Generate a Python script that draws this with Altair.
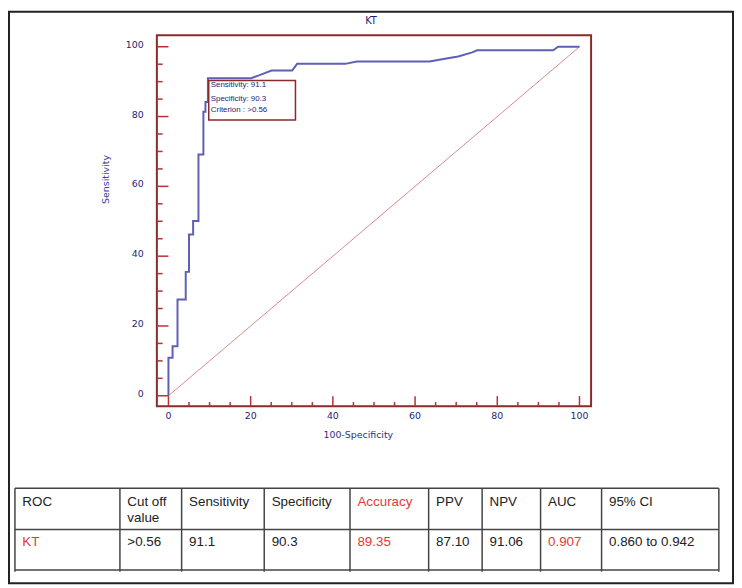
import altair as alt
import pandas as pd

# ---------------- data ----------------
# ROC curve vertices: 100-Specificity (x) and Sensitivity (y)
fpr = [0, 0, 1.0, 1.0, 2.2, 2.2, 4.2, 4.2, 5.0, 5.0, 6.0, 6.0, 7.3, 7.3, 8.5, 8.5,
       9.0, 9.0, 9.6, 9.6, 20.1, 22.0, 25.1, 30.1, 31.3, 43.0, 45.8, 63.5, 68.3,
       70.5, 73.9, 75.1, 93.6, 94.8, 100]
tpr = [0, 10.9, 10.9, 14.2, 14.2, 27.6, 27.6, 35.5, 35.5, 46.2, 46.2, 50.1, 50.1,
       69.1, 69.1, 81.4, 81.4, 84.2, 84.2, 91.0, 91.0, 91.8, 93.2, 93.2, 95.1, 95.1,
       95.8, 95.8, 96.8, 97.2, 98.4, 99.0, 99.0, 100, 100]
ref_line = [0, 100]
tick_major = [0, 20, 40, 60, 80, 100]
tick_minor = [5, 10, 15, 25, 30, 35, 45, 50, 55, 65, 70, 75, 85, 90, 95]
box_lines = ["Sensitivity: 91.1", "Specificity: 90.3", "Criterion : >0.56"]
box_x = [9.8, 30.9]
box_y = [79.0, 90.35]
box_text_y = [88.9, 85.1, 82.0]

headers = ["ROC", "Cut off\nvalue", "Sensitivity", "Specificity", "Accuracy",
           "PPV", "NPV", "AUC", "95% CI"]
row_values = ["KT", ">0.56", "91.1", "90.3", "89.35", "87.10", "91.06", "0.907",
              "0.860 to 0.942"]

# ---------------- layout / style ----------------
W, H = 731, 577
X_DOM = [-2.82, 102.82]
Y_DOM = [-3.0, 103.3]
xs = alt.Scale(domain=X_DOM, range=[149.3, 587.7], nice=False, zero=False)
ys = alt.Scale(domain=Y_DOM, range=[398.3, 23.7], nice=False, zero=False)
FRAME = "#8b2a2a"
TICK = "#b83030"
NAVY = "#1e1e74"
CURVE = "#5f5fb5"
DIAG = "#d98a8a"
RED = "#e23a3a"
TXT = "#222222"
FONT = "DejaVu Sans"
TFONT = "Liberation Sans"

col_edges = [6, 112, 174.3, 257.7, 344.3, 423.7, 477.7, 536.7, 598.3, 716.7]
row_lines = [481, 522.7, 563.7]
table_bottom = 565.3
red_headers = {"Accuracy"}
red_values = {"KT", "89.35", "0.907"}

X = lambda f: alt.X(f, type="quantitative", scale=xs, axis=None)
Y = lambda f: alt.Y(f, type="quantitative", scale=ys, axis=None)

# ---------------- ROC plot ----------------
diag = alt.Chart(pd.DataFrame({"x": ref_line, "y": ref_line})).mark_line(
    color=DIAG, strokeWidth=1).encode(x=X("x"), y=Y("y"))

curve_df = pd.DataFrame({"x": fpr, "y": tpr, "i": range(len(fpr))})
curve = alt.Chart(curve_df).mark_line(color=CURVE, strokeWidth=2).encode(
    x=X("x"), y=Y("y"), order="i:Q")

frame_df = pd.DataFrame({"x": [X_DOM[0]], "x2": [X_DOM[1]], "y": [Y_DOM[0]], "y2": [Y_DOM[1]]})
frame = alt.Chart(frame_df).mark_rect(fillOpacity=0, stroke=FRAME, strokeWidth=2).encode(
    x=X("x"), x2="x2", y=Y("y"), y2="y2")

ytk = pd.DataFrame({
    "v": tick_major + tick_minor,
    "x": [X_DOM[0]] * (len(tick_major) + len(tick_minor)),
    "x2": [X_DOM[0] + 2.82] * len(tick_major) + [X_DOM[0] + 1.4] * len(tick_minor),
})
yticks = alt.Chart(ytk).mark_rule(color=TICK, strokeWidth=1.5).encode(
    x=X("x"), x2="x2", y=Y("v"))

xtk = pd.DataFrame({
    "v": tick_major + tick_minor,
    "y": [Y_DOM[0]] * (len(tick_major) + len(tick_minor)),
    "y2": [Y_DOM[0] + 2.9] * len(tick_major) + [Y_DOM[0] + 1.2] * len(tick_minor),
})
xticks = alt.Chart(xtk).mark_rule(color=TICK, strokeWidth=1.5).encode(
    x=X("v"), y=Y("y"), y2="y2")

lab_df = pd.DataFrame({"v": tick_major, "t": [str(v) for v in tick_major]})
ylabels = alt.Chart(lab_df).mark_text(
    align="right", baseline="middle", font=FONT, fontSize=9.5, color=NAVY, dy=-2
).encode(x=alt.value(136), y=Y("v"), text="t:N")
xlabels = alt.Chart(lab_df).mark_text(
    align="center", baseline="middle", font=FONT, fontSize=9.5, color=NAVY
).encode(x=X("v"), y=alt.value(408.5), text="t:N")

title = alt.Chart(pd.DataFrame({"t": ["KT"]})).mark_text(
    align="center", baseline="middle", font=FONT, fontSize=10, color=NAVY
).encode(x=alt.value(365.5), y=alt.value(9.5), text="t:N")
xtitle = alt.Chart(pd.DataFrame({"t": ["100-Specificity"]})).mark_text(
    align="center", baseline="middle", font=FONT, fontSize=9.5, color="#2e2e8e"
).encode(x=alt.value(352.7), y=alt.value(427.7), text="t:N")
ytitle = alt.Chart(pd.DataFrame({"t": ["Sensitivity"]})).mark_text(
    align="center", baseline="middle", font=FONT, fontSize=9.5, color="#3a3aa0", angle=270
).encode(x=alt.value(98.3), y=alt.value(169.3), text="t:N")

box_df = pd.DataFrame({"x": [box_x[0]], "x2": [box_x[1]], "y": [box_y[0]], "y2": [box_y[1]]})
box = alt.Chart(box_df).mark_rect(fill="white", stroke=FRAME, strokeWidth=1.5).encode(
    x=X("x"), x2="x2", y=Y("y"), y2="y2")
box_txt = alt.Chart(pd.DataFrame({"t": box_lines, "y": box_text_y, "x": [box_x[0] + 0.5] * 3})).mark_text(
    align="left", baseline="middle", font=TFONT, fontSize=8, color=NAVY
).encode(x=X("x"), y=Y("y"), text="t:N")

roc = alt.layer(diag, curve, frame, yticks, xticks, ylabels, xlabels, title,
                xtitle, ytitle, box, box_txt)

# ---------------- table ----------------
hl = pd.DataFrame({"y": row_lines, "x": [col_edges[0]] * 3, "x2": [col_edges[-1]] * 3})
hlines = alt.Chart(hl).mark_rule(color="#444444", strokeWidth=1.5).encode(
    x=alt.X("x:Q", scale=None), x2="x2:Q", y=alt.Y("y:Q", scale=None))
vl = pd.DataFrame({"x": col_edges, "y": [row_lines[0]] * len(col_edges),
                   "y2": [table_bottom] * len(col_edges)})
vlines = alt.Chart(vl).mark_rule(color="#444444", strokeWidth=1.5).encode(
    x=alt.X("x:Q", scale=None), y=alt.Y("y:Q", scale=None), y2="y2:Q")

recs = []
for i, h in enumerate(headers):
    for j, part in enumerate(h.split("\n")):
        recs.append({"x": col_edges[i] + 7.5, "y": 499.2 + 16.2 * j, "t": part,
                     "c": RED if h in red_headers else TXT})
for i, v in enumerate(row_values):
    recs.append({"x": col_edges[i] + 7.5, "y": 539.3, "t": v,
                 "c": RED if v in red_values else TXT})
cells = alt.Chart(pd.DataFrame(recs)).mark_text(
    align="left", baseline="alphabetic", font=TFONT, fontSize=13.5
).encode(x=alt.X("x:Q", scale=None), y=alt.Y("y:Q", scale=None), text="t:N",
         color=alt.Color("c:N", scale=None))

table = alt.layer(hlines, vlines, cells)

chart = alt.layer(roc, table).resolve_scale(x="independent", y="independent").properties(
    width=W, height=H,
    padding={"left": 1, "top": 1, "right": 1, "bottom": 1},
    autosize=alt.AutoSizeParams(type="none"),
    background="white",
).configure_view(stroke="#222222", strokeWidth=2)

chart.save("out.html", embed_options={"renderer": "svg", "actions": False})
